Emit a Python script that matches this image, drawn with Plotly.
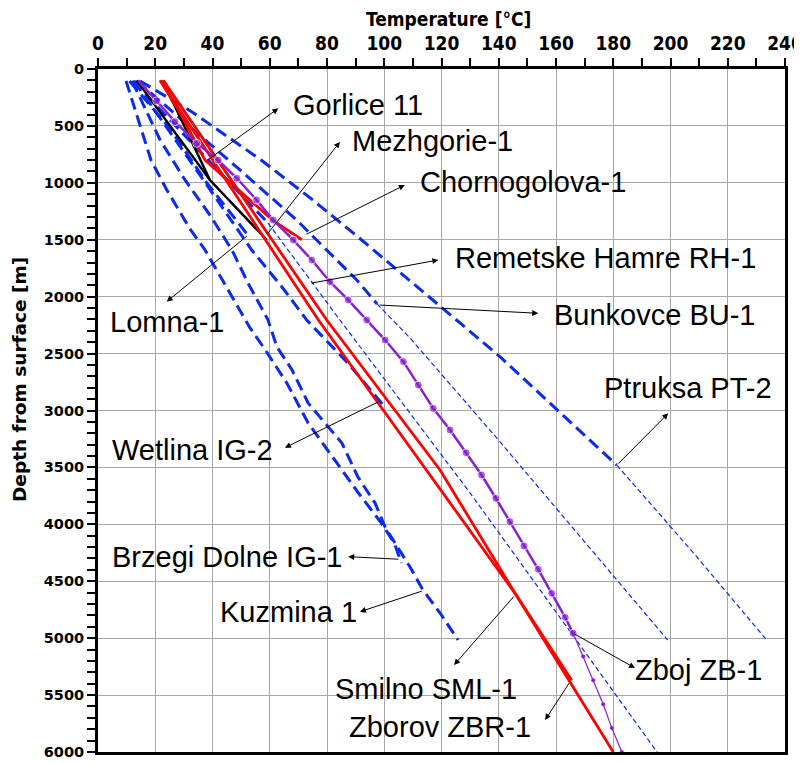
import plotly.graph_objects as go

# ---------------- data (temperature °C, depth m) ----------------
# thick dashed blue wells (measured parts)
ptruksa_T = [14.7, 33, 57, 75, 92, 128.8, 140.4, 181.2]
ptruksa_D = [105, 380, 800, 1150, 1500, 2278, 2527, 3479]
ptruksa_ext_T = [181.2, 208, 233.6]
ptruksa_ext_D = [3479, 4250, 5016]

bunkovce_T = [13.6, 31, 49.6, 69.4, 81, 90.4, 97.5]
bunkovce_D = [105, 480, 887, 1327, 1616, 1854, 2064]
bunkovce_ext_T = [97.5, 109, 140.4, 199]
bunkovce_ext_D = [2064, 2363, 3274, 5016]

remetske_T = [12.2, 35, 59.4]
remetske_D = [105, 710, 1353]
remetske_ext_T = [59.4, 84.5, 130, 195.3]
remetske_ext_D = [1353, 2205, 3725, 6000]

wetlina_T = [12.6, 32, 53.7, 64.2, 72.9, 87.3, 99.6]
wetlina_D = [105, 800, 1590, 1913, 2205, 2583, 2952]

lomna_T = [11, 25, 38, 52.4]
lomna_D = [105, 520, 1000, 1460]

brzegi_T = [9.8, 18.5, 24, 32, 37.4, 46, 53, 58.5, 66, 73.4, 82, 91, 99, 103.5, 106]
brzegi_D = [105, 800, 1060, 1400, 1590, 1960, 2270, 2470, 2760, 3110, 3410, 3725, 3990, 4165, 4340]

kuzmina_T = [11.9, 21.7, 30.4, 39.1, 46.8, 52.4, 59.4, 62.5, 67.8, 73.4, 79.3, 85.2,
             90.8, 96.8, 100.3, 103.8, 109, 113.5, 119.5, 125.8]
kuzmina_D = [105, 624, 975, 1283, 1590, 1880, 2205, 2442, 2644, 2934, 3110, 3286,
             3584, 3813, 4024, 4164, 4375, 4577, 4779, 5016]

# black wells
mezhgorie_T = [13.5, 39.1, 58.9]
mezhgorie_D = [100, 975, 1500]
gorlice_T = [22.6, 39.1]
gorlice_D = [100, 975]

# red wells
chornogolova_T = [21.7, 29, 37.4, 46.5, 61, 71.2]
chornogolova_D = [100, 400, 800, 1000, 1327, 1500]
smilno_T = [21.7, 77, 145.7, 165.5]
smilno_D = [100, 2205, 4606, 5370]
zborov_T = [22.8, 79.9, 119.5, 145.7, 180]
zborov_D = [100, 2205, 3523, 4606, 6000]

# purple well (Zboj ZB-1)
zboj_T = [14, 20.5, 26.9, 34.5, 42, 48.5, 55.4, 61.2, 68.2, 74.7, 81, 87.4, 93.9,
          100.3, 106.7, 111.9, 117.1, 123, 128.6, 134, 139, 143.9, 148.8, 153.8,
          158.5, 163.2, 166]
zboj_D = [100, 280, 463, 653, 800, 960, 1151, 1327, 1502, 1678, 1869, 2029, 2205,
          2381, 2571, 2776, 2981, 3171, 3371, 3567, 3771, 3977, 4190, 4395,
          4606, 4817, 4957]
zboj_ext_T = [166, 169.5, 173, 176.5, 179.5, 183]
zboj_ext_D = [4957, 5160, 5370, 5580, 5790, 6000]

# labels: name, text position (T, D), arrow head (T, D), arrow tail on curve (T, D)
label_names = ["Gorlice 11", "Mezhgorie-1", "Chornogolova-1", "Remetske Hamre RH-1",
               "Bunkovce BU-1", "Ptruksa PT-2", "Lomna-1", "Wetlina IG-2",
               "Brzegi Dolne IG-1", "Kuzmina 1", "Smilno SML-1", "Zborov ZBR-1", "Zboj ZB-1"]
label_T = [67.4, 88.0, 111.8, 124.0, 158.5, 176.0, 3.5, 4.2, 4.2, 41.9, 82.1, 87.0, 186.9]
label_D = [316, 633, 993, 1660, 2161, 2802, 2223, 3347, 4287, 4770, 5447, 5780, 5280]
head_T = [63.0, 84.5, 107.2, 118.9, 153.8, 199.2, 24.0, 65.3, 87.4, 91.5, 124.4, 156.2, 187.6]
head_D = [345, 641, 1019, 1678, 2146, 3025, 2044, 3327, 4284, 4768, 5236, 5719, 5262]
tail_T = [38.0, 58.9, 72.3, 74.1, 97.9, 181.3, 52.5, 98.5, 105.5, 113.6, 145.7, 164.9, 166.0]
tail_D = [806, 1458, 1458, 1883, 2073, 3479, 1458, 2917, 4307, 4583, 4621, 5383, 4957]

x_title = "Temperature [°C]"
y_title = "Depth from surface [m]"

# ---------------- styling ----------------
BLUE = "#0a2af0"
RED = "#ff0000"
PURPLE = "#8b1fcf"
thick_dash = dict(color=BLUE, width=3, dash="12px,6px")
thin_dash = dict(color=BLUE, width=1.2, dash="5px,3px")

fig = go.Figure()


def add(T, D, line, name, mode="lines", marker=None):
    fig.add_trace(go.Scatter(x=T, y=D, mode=mode, line=line, name=name,
                             marker=marker, showlegend=False))


add(ptruksa_ext_T, ptruksa_ext_D, thin_dash, "Ptruksa PT-2")
add(bunkovce_ext_T, bunkovce_ext_D, thin_dash, "Bunkovce BU-1")
add(remetske_ext_T, remetske_ext_D, thin_dash, "Remetske Hamre RH-1")
add(ptruksa_T, ptruksa_D, thick_dash, "Ptruksa PT-2")
add(bunkovce_T, bunkovce_D, thick_dash, "Bunkovce BU-1")
add(remetske_T, remetske_D, thick_dash, "Remetske Hamre RH-1")
add(wetlina_T, wetlina_D, thick_dash, "Wetlina IG-2")
add(lomna_T, lomna_D, thick_dash, "Lomna-1")
add(brzegi_T, brzegi_D, thick_dash, "Brzegi Dolne IG-1")
add(kuzmina_T, kuzmina_D, thick_dash, "Kuzmina 1")

add(mezhgorie_T, mezhgorie_D, dict(color="black", width=2.5), "Mezhgorie-1")
add(gorlice_T, gorlice_D, dict(color="black", width=2.5), "Gorlice 11")

add(chornogolova_T, chornogolova_D, dict(color=RED, width=2.8), "Chornogolova-1")
add(smilno_T, smilno_D, dict(color=RED, width=2.8), "Smilno SML-1")
add(zborov_T, zborov_D, dict(color=RED, width=2.8), "Zborov ZBR-1")

add(zboj_ext_T, zboj_ext_D, dict(color=PURPLE, width=1.2), "Zboj ZB-1",
    mode="lines+markers", marker=dict(color=PURPLE, size=4))
add(zboj_T, zboj_D, dict(color=PURPLE, width=2.5), "Zboj ZB-1",
    mode="lines+markers",
    marker=dict(color=PURPLE, size=[0] + [8] * (len(zboj_T) - 1)))

annotations = []
for name, lt, ld, ht, hd, tt, td in zip(label_names, label_T, label_D,
                                         head_T, head_D, tail_T, tail_D):
    annotations.append(dict(x=ht, y=hd, ax=tt, ay=td, xref="x", yref="y",
                            axref="x", ayref="y", text="", showarrow=True,
                            arrowhead=2, arrowsize=1.2, arrowwidth=1,
                            arrowcolor="black", standoff=0, startstandoff=0))
    annotations.append(dict(x=lt, y=ld, xref="x", yref="y", text=name,
                            showarrow=False, xanchor="left", yanchor="middle",
                            font=dict(family="Liberation Sans, Arial", size=29,
                                      color="black")))

NARROW = "Liberation Sans Narrow, Arial Narrow, DejaVu Sans Condensed, Liberation Sans"

# axis titles placed as paper annotations to match the reference position
annotations.append(dict(x=0.5095, y=1.0732, xref="paper", yref="paper",
                        text=x_title, showarrow=False, xanchor="center",
                        yanchor="middle", borderpad=0,
                        font=dict(family=NARROW, size=19, color="black",
                                  weight="bold")))
annotations.append(dict(x=-0.1135, y=0.5447, xref="paper", yref="paper",
                        text=y_title, showarrow=False, textangle=-90,
                        xanchor="center", yanchor="middle", borderpad=0,
                        font=dict(family="DejaVu Sans", size=18.5, color="black",
                                  weight="bold")))

xtick_font = dict(family=NARROW, size=19, color="black", weight="bold")
ytick_font = dict(family="DejaVu Sans", size=14.5, color="black", weight="bold")

# the page body adds an 8 px offset at the left/top of the figure
fig.update_layout(
    width=802, height=757,
    margin=dict(l=90, r=25, t=61, b=13, autoexpand=False),
    paper_bgcolor="white", plot_bgcolor="white",
    annotations=annotations,
    xaxis=dict(
        side="top", range=[0, 240], tickmode="array",
        tickvals=list(range(0, 241, 20)),
        ticks="outside", ticklen=8, tickwidth=1.5, tickcolor="black",
        minor=dict(dtick=10, ticks="outside", ticklen=8, tickwidth=1.5,
                   tickcolor="black", showgrid=False),
        showgrid=True, gridcolor="#a8a8a8", gridwidth=1,
        showline=True, linecolor="black", linewidth=3, mirror=True,
        zeroline=False, tickfont=xtick_font, automargin=False,
        ticklabeloverflow="allow",
    ),
    yaxis=dict(
        range=[6000, 0], tickmode="array",
        tickvals=list(range(0, 6001, 500)),
        ticks="outside", ticklen=8, tickwidth=1.5, tickcolor="black",
        minor=dict(dtick=100, ticks="outside", ticklen=8, tickwidth=1.5,
                   tickcolor="black", showgrid=False),
        showgrid=True, gridcolor="#a8a8a8", gridwidth=1,
        showline=True, linecolor="black", linewidth=3, mirror=True,
        zeroline=False, tickfont=ytick_font, automargin=False,
        ticklabeloverflow="allow",
    ),
)

fig.write_html("out.html")
